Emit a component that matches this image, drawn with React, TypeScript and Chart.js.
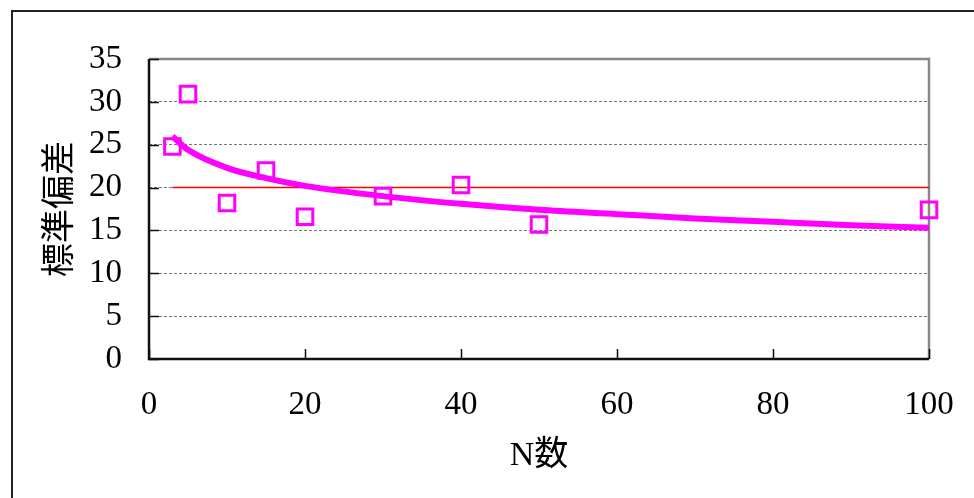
import React, { useEffect, useRef } from 'react';
import { Chart, registerables } from 'chart.js';

Chart.register(...registerables);

// Observed standard deviation per sample size N
const nValues = [3, 5, 10, 15, 20, 30, 40, 50, 100];
const sdValues = [24.8, 30.9, 18.2, 22.0, 16.6, 19.0, 20.3, 15.7, 17.4];

// Trend line
const trendN = [3, 5, 10, 15, 20, 30, 40, 50, 60, 70, 80, 90, 100];
const trendSd = [26.0, 24.4, 22.3, 21.1, 20.2, 19.0, 18.1, 17.4, 16.9, 16.4, 16.0, 15.6, 15.3];

// Reference line at SD = 20
const refN = [3, 100];
const refSd = [20, 20];

const yMin = 0;
const yMax = 35;
const yStep = 5;
const xMin = 0;
const xMax = 100;
const xStep = 20;

const yTitle = '標準偏差';
const xTitle = 'N数';

const FONT = "'Liberation Serif', 'Noto Sans CJK JP', serif";

const framePlugin = {
  id: 'frame',
  beforeDatasetsDraw(chart: any) {
    const { ctx, chartArea: a, scales } = chart;
    const xs = scales.x;
    const ys = scales.y;
    ctx.save();
    // outer chart border
    ctx.strokeStyle = '#222';
    ctx.lineWidth = 2;
    ctx.strokeRect(12, 11, chart.width + 20, chart.height + 20);
    // top & right plot border (gray)
    ctx.strokeStyle = '#888';
    ctx.lineWidth = 2.5;
    ctx.beginPath();
    ctx.moveTo(a.left, a.top);
    ctx.lineTo(a.right, a.top);
    ctx.lineTo(a.right, a.bottom);
    ctx.stroke();
    // left & bottom axis (black)
    ctx.strokeStyle = '#111';
    ctx.lineWidth = 2.5;
    ctx.beginPath();
    ctx.moveTo(a.left, a.top);
    ctx.lineTo(a.left, a.bottom);
    ctx.lineTo(a.right, a.bottom);
    ctx.stroke();
    // inward tick marks
    ctx.lineWidth = 1.5;
    ctx.beginPath();
    for (let v = yMin; v <= yMax; v += yStep) {
      const py = Math.round(ys.getPixelForValue(v)) + 0.5;
      ctx.moveTo(a.left, py);
      ctx.lineTo(a.left + 10, py);
    }
    for (let v = xMin; v <= xMax; v += xStep) {
      const px = Math.round(xs.getPixelForValue(v)) + 0.5;
      ctx.moveTo(px, a.bottom);
      ctx.lineTo(px, a.bottom - 10);
    }
    ctx.stroke();
    ctx.restore();
  },
};

export default function App() {
  const ref = useRef<HTMLCanvasElement>(null);

  useEffect(() => {
    if (!ref.current) return;
    const chart = new Chart(ref.current, {
      type: 'scatter',
      data: {
        datasets: [
          {
            label: 'SD',
            data: nValues.map((n, i) => ({ x: n, y: sdValues[i] })),
            showLine: false,
            pointStyle: 'rect',
            pointRadius: 11,
            pointBorderWidth: 3,
            pointBorderColor: '#FF00FF',
            pointBackgroundColor: 'rgba(255,255,255,0)',
            order: 0,
            clip: false,
          } as any,
          {
            label: 'trend',
            data: trendN.map((n, i) => ({ x: n, y: trendSd[i] })),
            showLine: true,
            borderColor: '#FF00FF',
            borderWidth: 6,
            pointRadius: 0,
            cubicInterpolationMode: 'monotone',
            order: 1,
          } as any,
          {
            label: 'ref',
            data: refN.map((n, i) => ({ x: n, y: refSd[i] })),
            showLine: true,
            borderColor: '#FF0000',
            borderWidth: 1.5,
            pointRadius: 0,
            order: 2,
          } as any,
        ],
      },
      options: {
        responsive: false,
        animation: false,
        events: [],
        layout: { padding: { left: 0, top: 59, right: 45, bottom: 0 } },
        plugins: {
          legend: { display: false },
          tooltip: { enabled: false },
        },
        scales: {
          x: {
            type: 'linear',
            min: xMin,
            max: xMax,
            ticks: {
              stepSize: xStep,
              color: '#000',
              font: { family: FONT, size: 33 },
              padding: 27,
              maxRotation: 0,
            },
            grid: { display: false, drawTicks: false },
            border: { display: false },
            title: {
              display: true,
              text: xTitle,
              color: '#000',
              font: { family: FONT, size: 34 },
              padding: { top: 0, bottom: 22 },
            },
            afterFit: (s: any) => {
              s.height = 139;
              s.paddingLeft = 0;
              s.paddingRight = 0;
            },
          },
          y: {
            type: 'linear',
            min: yMin,
            max: yMax,
            ticks: {
              stepSize: yStep,
              color: '#000',
              font: { family: FONT, size: 33 },
              padding: 27,
            },
            grid: {
              color: (c: any) => (c.tick && (c.tick.value === yMin || c.tick.value === yMax) ? 'rgba(0,0,0,0)' : '#777'),
              lineWidth: 1,
              drawTicks: false,
            },
            border: { display: false, dash: [3, 2] },
            title: {
              display: true,
              text: yTitle,
              color: '#000',
              font: { family: FONT, size: 34 },
              padding: { top: 41, bottom: 0 },
            },
            afterFit: (s: any) => {
              s.width = 149;
              s.paddingTop = 0;
              s.paddingBottom = 0;
            },
          },
        },
      },
      plugins: [framePlugin],
    });
    return () => chart.destroy();
  }, []);

  return (
    <div style={{ position: 'fixed', left: 0, top: 0, width: 974, height: 498, background: '#fff' }}>
      <canvas ref={ref} width={974} height={498} style={{ display: 'block' }} />
    </div>
  );
}
